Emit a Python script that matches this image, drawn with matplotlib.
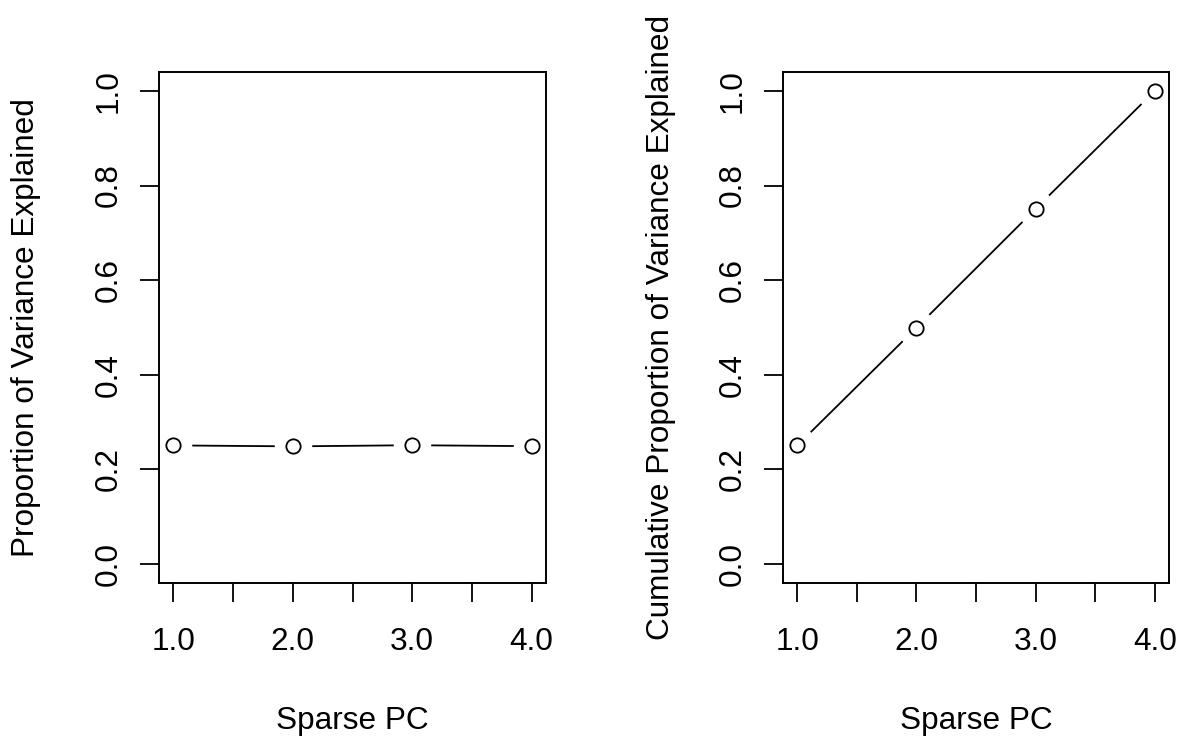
import numpy as np
import matplotlib
matplotlib.use("Agg")
import matplotlib.pyplot as plt

plt.rcParams['font.family'] = ['Liberation Sans', 'DejaVu Sans']
plt.rcParams['font.size'] = 22.7

# data
pc = [1, 2, 3, 4]
prop_var = [0.2508, 0.2488, 0.2512, 0.2492]
cum_prop_var = [0.2508, 0.4996, 0.7508, 1.0]

x_ticks = [1.0, 1.5, 2.0, 2.5, 3.0, 3.5, 4.0]
x_ticklabels = ['1.0', '', '2.0', '', '3.0', '', '4.0']
y_ticks = [0.0, 0.2, 0.4, 0.6, 0.8, 1.0]
y_ticklabels = ['0.0', '0.2', '0.4', '0.6', '0.8', '1.0']

fig = plt.figure(figsize=(11.84, 7.43), dpi=100)
ax1 = fig.add_axes([159 / 1184, 160 / 743, 387 / 1184, 511 / 743])
ax2 = fig.add_axes([783 / 1184, 160 / 743, 386 / 1184, 511 / 743])

panels = [
    (ax1, prop_var, 'Proportion of Variance Explained', -0.306),
    (ax2, cum_prop_var, 'Cumulative Proportion of Variance Explained', -0.278),
]

for ax, vals, ylab, ylab_x in panels:
    # type = "b": line with gaps around the points
    ax.plot(pc, vals, color='black', lw=1.3, zorder=2)
    ax.plot(pc, vals, 'o', ms=27, mfc='white', mec='none', zorder=2.1)
    ax.plot(pc, vals, 'o', ms=10.3, mfc='white', mec='black', mew=1.3, zorder=2.2)

    ax.set_xlim(0.88, 4.12)
    ax.set_ylim(-0.04, 1.04)
    ax.set_xticks(x_ticks)
    ax.set_xticklabels(x_ticklabels)
    ax.set_yticks(y_ticks)
    ax.set_yticklabels(y_ticklabels, rotation=90, va='center')

    ax.tick_params(axis='both', direction='out', length=13.7, width=1.3, color='black')
    ax.tick_params(axis='x', pad=18.2)
    ax.tick_params(axis='y', pad=11.5)
    for sp in ax.spines.values():
        sp.set_linewidth(1.4)

    ax.set_xlabel('Sparse PC', va='top')
    ax.xaxis.set_label_coords(0.5, -0.241)
    ax.set_ylabel(ylab, va='bottom')
    ax.yaxis.set_label_coords(ylab_x, 0.5)

fig.savefig('out.png', dpi=100)
